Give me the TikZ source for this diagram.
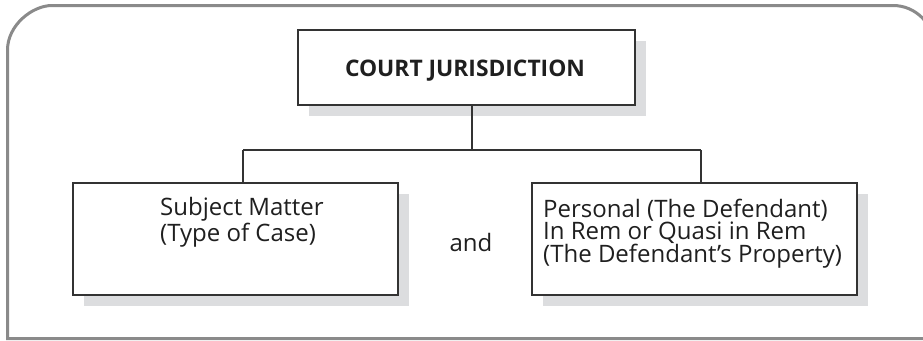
\documentclass[tikz,border=0pt]{standalone}
\usepackage{fontspec}
\setmainfont{Open Sans}
\definecolor{framegray}{HTML}{8A8A8A}
\definecolor{shadowgray}{HTML}{DCDDDF}
\definecolor{boxline}{HTML}{333333}
\tikzset{
  frameline/.style={draw=framegray, line width=3pt},
  shadowbox/.style={fill=shadowgray, draw=none},
  mainbox/.style={draw=boxline, fill=white, line width=1.4pt},
  link/.style={draw=boxline, line width=1.2pt},
  label/.style={font=\fontsize{24}{22.2}\selectfont, text=black!88, align=left, inner sep=0pt}
}
\begin{document}
\begin{tikzpicture}[x=1pt,y=-1pt]
\useasboundingbox (0,0) rectangle (923,340);
\begin{scope}
\clip (0,0) rectangle (923,340);
% outer frame, rounded at the top only
\draw[frameline] (934,338.5) -- (7.5,338.5) -- (7.5,50)
  .. controls (7.5,25.2) and (32.3,5.5) .. (52,5.5) -- (893,5.5)
  .. controls (915.6,5.5) and (934,23.9) .. (934,46.5) -- cycle;
\end{scope}

% drop shadows
\fill[shadowbox] (309,41) rectangle (646,116);
\fill[shadowbox] (84,194) rectangle (409,306);
\fill[shadowbox] (543,194) rectangle (868,306);

% boxes
\draw[mainbox] (298,30) rectangle (635,105);
\draw[mainbox] (73,183) rectangle (398,295);
\draw[mainbox] (532,183) rectangle (857,295);

\coordinate (topb) at (472,105);
\coordinate (hub) at (472,150);
\coordinate (lhub) at (243,150);
\coordinate (rhub) at (701,150);
\coordinate (ltop) at (243,183);
\coordinate (rtop) at (701,183);

% connectors
\draw[link] (topb) -- (hub);
\draw[link] (lhub) -- (rhub);
\draw[link] (lhub) -- (ltop);
\draw[link] (rhub) -- (rtop);

% texts
\node[label, font=\fontsize{22.8}{24}\selectfont\bfseries, anchor=base] (court) at (465,76) {COURT JURISDICTION};
\node[label, anchor=north west] (subj) at (160,197.5) {Subject Matter\\(Type of Case)};
\node[label, anchor=base] (andtxt) at (471,251) {and};
\node[label, anchor=north west] (pers) at (543,198.5) {Personal (The Defendant)\\In Rem or Quasi in Rem\\(The Defendant’s Property)};
\end{tikzpicture}
\end{document}
